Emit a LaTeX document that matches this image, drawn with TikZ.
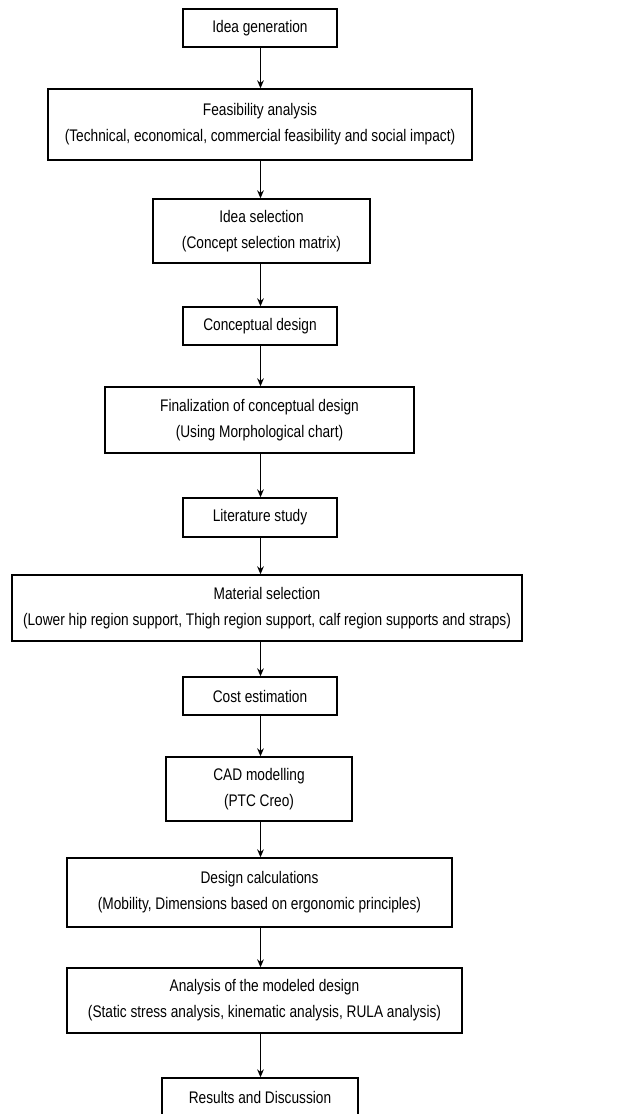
\documentclass[tikz,border=0pt]{standalone}
\usepackage{fontspec}
\setmainfont{Liberation Sans}[FakeStretch=0.815]
\usetikzlibrary{arrows.meta}
\newcommand{\pxu}{0.75pt}
\tikzset{
  stage/.style={draw, line width=1pt, align=center, inner sep=0pt,
    font=\fontsize{12.6}{19.5}\selectfont},
  flow/.style={-{Stealth[length=6pt,width=5pt]}, line width=1pt}
}
\begin{document}
\begin{tikzpicture}[x=0.75pt, y=-0.75pt]
  \useasboundingbox (0,0) rectangle (621,1114);
  % stages, top to bottom
  \node[stage, minimum width=154*\pxu, minimum height=38*\pxu] (idea) at (260,28) {Idea generation};
  \node[stage, minimum width=424*\pxu, minimum height=71*\pxu] (feas) at (260,124.5) {Feasibility analysis\\(Technical, economical, commercial feasibility and social impact)};
  \node[stage, minimum width=217*\pxu, minimum height=64*\pxu] (sel) at (261.5,231) {Idea selection\\(Concept selection matrix)};
  \node[stage, minimum width=154*\pxu, minimum height=38*\pxu] (concept) at (260,326) {Conceptual design};
  \node[stage, minimum width=309*\pxu, minimum height=66*\pxu] (final) at (259.5,420) {Finalization of conceptual design\\(Using Morphological chart)};
  \node[stage, minimum width=154*\pxu, minimum height=39*\pxu] (lit) at (260,517.5) {Literature study};
  \node[stage, minimum width=510*\pxu, minimum height=66*\pxu] (mat) at (267,608) {Material selection\\(Lower hip region support, Thigh region support, calf region supports and straps)};
  \node[stage, minimum width=154*\pxu, minimum height=38*\pxu] (cost) at (260,696) {Cost estimation};
  \node[stage, minimum width=186*\pxu, minimum height=64*\pxu] (cad) at (259,789) {CAD modelling\\(PTC Creo)};
  \node[stage, minimum width=385*\pxu, minimum height=69*\pxu] (calc) at (259.5,892.5) {Design calculations\\(Mobility, Dimensions based on ergonomic principles)};
  \node[stage, minimum width=395*\pxu, minimum height=65*\pxu] (anal) at (264.5,1000.5) {Analysis of the modeled design\\(Static stress analysis, kinematic analysis, RULA analysis)};
  \node[stage, minimum width=196*\pxu, minimum height=38*\pxu] (res) at (260,1097) {Results and Discussion};
  % arrows down the middle
  \coordinate (spine) at (260.5,0);
  \foreach \a/\b in {idea/feas,feas/sel,sel/concept,concept/final,final/lit,lit/mat,mat/cost,cost/cad,cad/calc,calc/anal,anal/res} {
    \draw[flow] (spine |- \a.south) -- (spine |- \b.north);
  }
\end{tikzpicture}
\end{document}
